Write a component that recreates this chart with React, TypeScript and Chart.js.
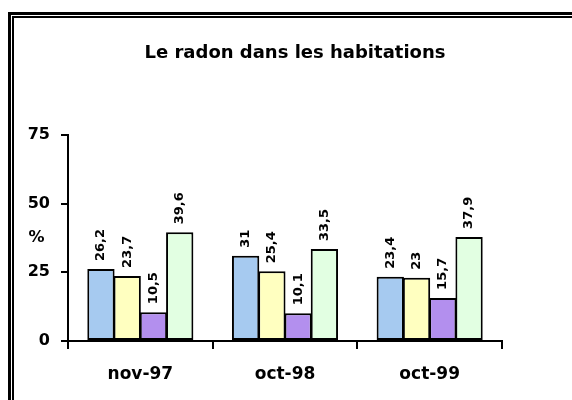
import React, { useEffect, useRef } from "react";
import { Chart, registerables } from "chart.js";

Chart.register(...registerables);

const categories = ["nov-97", "oct-98", "oct-99"];
const seriesA = [26.2, 31, 23.4];
const seriesB = [23.7, 25.4, 23];
const seriesC = [10.5, 10.1, 15.7];
const seriesD = [39.6, 33.5, 37.9];
const seriesNames = ["Série 1", "Série 2", "Série 3", "Série 4"];
const seriesColors = ["#A6CAF0", "#FFFFC0", "#B38FEE", "#E2FFE2"];
const yTicks = [0, 25, 50, 75];
const titleText = "Le radon dans les habitations";
const yUnit = "%";

const FONT = "DejaVu Sans";

const fmt = (v: number) => String(v).replace(".", ",");

const labelPlugin = {
  id: "barLabels",
  afterDatasetsDraw(chart: any) {
    const ctx = chart.ctx;
    ctx.save();
    ctx.fillStyle = "#000";
    ctx.font = `bold 13px "${FONT}"`;
    ctx.textAlign = "left";
    ctx.textBaseline = "middle";
    chart.data.datasets.forEach((ds: any, di: number) => {
      const meta = chart.getDatasetMeta(di);
      meta.data.forEach((el: any, i: number) => {
        const v = ds.data[i];
        ctx.save();
        ctx.translate(el.x, el.y - 8);
        ctx.rotate(-Math.PI / 2);
        ctx.fillText(fmt(v), 0, 0);
        ctx.restore();
      });
    });
    ctx.restore();
  },
};

const unitPlugin = {
  id: "unitLabel",
  afterDraw(chart: any) {
    const ctx = chart.ctx;
    const a = chart.chartArea;
    ctx.save();
    ctx.fillStyle = "#000";
    ctx.font = `bold 16px "${FONT}"`;
    ctx.textAlign = "center";
    ctx.textBaseline = "middle";
    ctx.fillText(yUnit, 36.5, (a.top + a.bottom) / 2);
    ctx.restore();
  },
};

export default function App() {
  const ref = useRef<HTMLCanvasElement>(null);

  useEffect(() => {
    if (!ref.current) return;
    Chart.defaults.font.family = FONT;
    const data = [seriesA, seriesB, seriesC, seriesD];
    const chart = new Chart(ref.current, {
      type: "bar",
      data: {
        labels: categories,
        datasets: data.map((d, i) => ({
          label: seriesNames[i],
          data: d,
          backgroundColor: seriesColors[i],
          borderColor: "#000",
          borderWidth: 2,
          borderSkipped: false,
          barPercentage: 1.04,
          categoryPercentage: 0.726,
        })),
      },
      options: {
        responsive: false,
        animation: false,
        layout: { padding: 0 },
        plugins: {
          legend: { display: false },
          tooltip: { enabled: false },
          title: {
            display: true,
            text: titleText,
            color: "#000",
            font: { family: FONT, size: 18, weight: "bold" },
            padding: { top: 43, bottom: 70.4 },
          },
        },
        scales: {
          x: {
            afterFit: (s: any) => {
              s.height = 59;
            },
            grid: {
              offset: true,
              drawOnChartArea: false,
              drawTicks: true,
              tickLength: 8,
              color: "#000",
              lineWidth: 2,
            },
            border: { display: true, color: "#000", width: 2 },
            ticks: {
              color: "#000",
              padding: 15,
              font: { family: FONT, size: 17, weight: "bold" },
            },
          },
          y: {
            min: 0,
            max: 75,
            afterFit: (s: any) => {
              s.width = 68;
            },
            afterBuildTicks: (s: any) => {
              s.ticks = yTicks.map((v) => ({ value: v }));
            },
            grid: {
              drawOnChartArea: false,
              drawTicks: true,
              tickLength: 7,
              color: "#000",
              lineWidth: 2,
            },
            border: { display: true, color: "#000", width: 2 },
            ticks: {
              color: "#000",
              padding: 11,
              font: { family: FONT, size: 16, weight: "bold" },
            },
          },
          yRight: {
            position: "right",
            display: true,
            afterFit: (s: any) => {
              s.width = 88;
            },
            grid: { display: false, drawTicks: false },
            border: { display: false },
            ticks: { display: false },
          },
        },
      },
      plugins: [labelPlugin, unitPlugin],
    });
    return () => chart.destroy();
  }, []);

  return (
    <div
      style={{
        position: "fixed",
        left: 0,
        top: 0,
        width: 572,
        height: 400,
        overflow: "hidden",
        background: "#fff",
      }}
    >
      <div
        style={{
          position: "absolute",
          left: 8,
          top: 12,
          width: 620,
          height: 520,
          border: "3px solid #000",
        }}
      />
      <div
        style={{
          position: "absolute",
          left: 12,
          top: 16,
          width: 610,
          height: 510,
          border: "2px solid #000",
        }}
      />
      <canvas
        ref={ref}
        width={590}
        height={400}
        style={{ position: "absolute", left: 0, top: 0 }}
      />
    </div>
  );
}
